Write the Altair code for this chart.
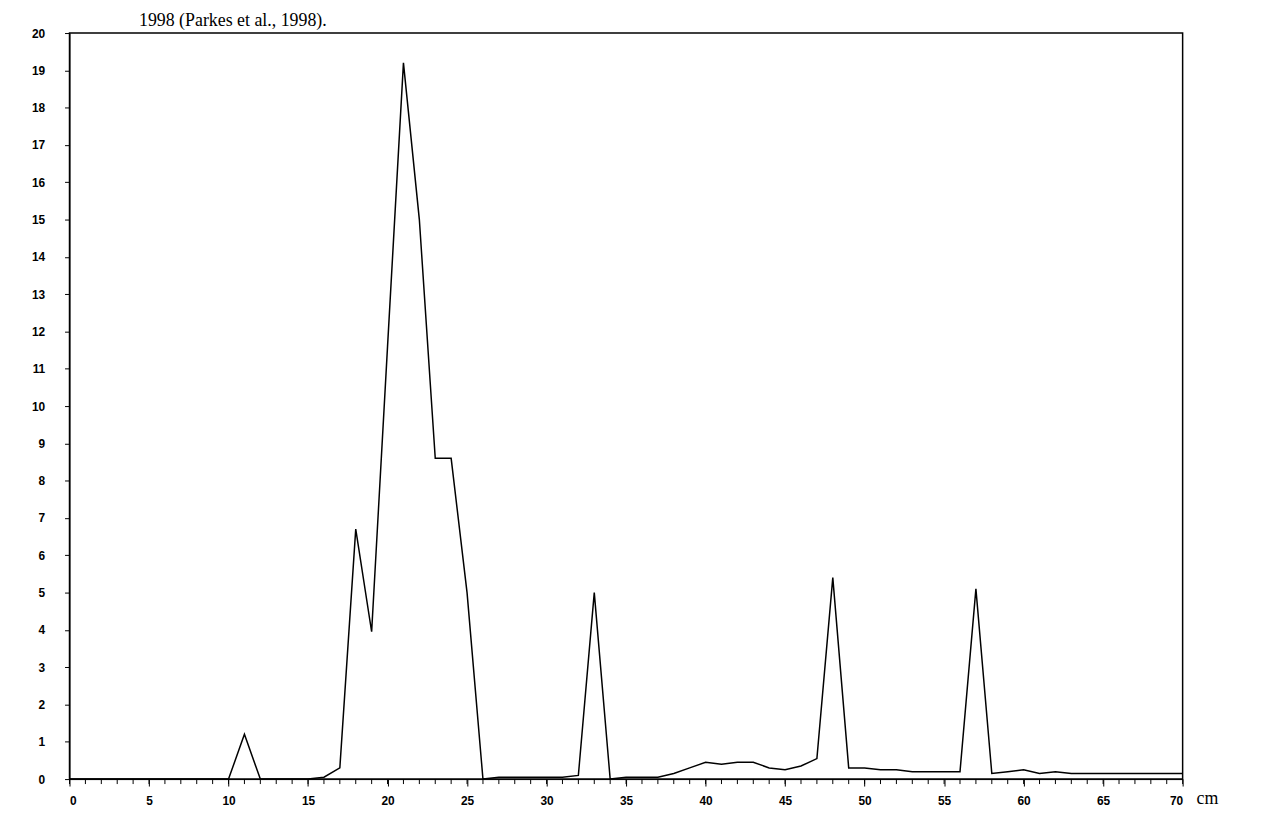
import altair as alt
import pandas as pd

xs = list(range(0, 71))
ys = [0]*11 + [1.2, 0, 0, 0, 0, 0.05, 0.3, 6.7, 3.95, 11.6, 19.2, 15.0, 8.6, 8.6, 5.0, 0,
      0.05, 0.05, 0.05, 0.05, 0.05, 0.1, 5.0, 0, 0.05, 0.05, 0.05, 0.15, 0.3, 0.45, 0.4, 0.45,
      0.45, 0.3, 0.25, 0.35, 0.55, 5.4, 0.3, 0.3, 0.25, 0.25, 0.2, 0.2, 0.2, 0.2, 5.1, 0.15,
      0.2, 0.25, 0.15, 0.2] + [0.15]*8
df = pd.DataFrame({"x": xs, "y": ys})

H = 752
xscale = alt.Scale(domain=[0, 70], nice=False)
yscale = alt.Scale(domain=[0, 20], nice=False)
lab = dict(labelFont="Liberation Sans", labelFontWeight="bold", labelFontSize=12, labelColor="black",
           domainColor="black", tickColor="black", grid=False)

line = alt.Chart(df).mark_line(color="black", strokeWidth=1.5).encode(
    x=alt.X("x:Q", scale=xscale, title=None,
            axis=alt.Axis(values=list(range(0, 71, 5)), tickSize=7, labelPadding=10, **lab)),
    y=alt.Y("y:Q", scale=yscale, title=None,
            axis=alt.Axis(values=list(range(0, 21)), tickSize=5, labelPadding=20, **lab)),
)
minor = alt.Chart(df).mark_rule(color="black", strokeWidth=1).encode(
    x=alt.X("x:Q", scale=xscale), y=alt.value(H), y2=alt.value(H + 5)
)
cm = alt.Chart(pd.DataFrame({"t": ["cm"]})).mark_text(
    font="Liberation Serif", fontSize=18, align="left", baseline="middle").encode(
    x=alt.value(1136), y=alt.value(H + 20), text="t:N")
cite = alt.Chart(pd.DataFrame({"t": ["1998 (Parkes et al., 1998)."]})).mark_text(
    font="Liberation Serif", fontSize=18, align="left", baseline="middle").encode(
    x=alt.value(70), y=alt.value(-12), text="t:N")

chart = alt.layer(line, minor, cm, cite).properties(
    width=1122, height=H,
    autosize=alt.AutoSizeParams(type="none"),
    padding={"left": 62, "top": 22, "right": 80, "bottom": 40},
).configure_view(stroke="black", strokeWidth=1.5)

chart.save("out.html", embed_options={"renderer": "svg", "actions": False})
